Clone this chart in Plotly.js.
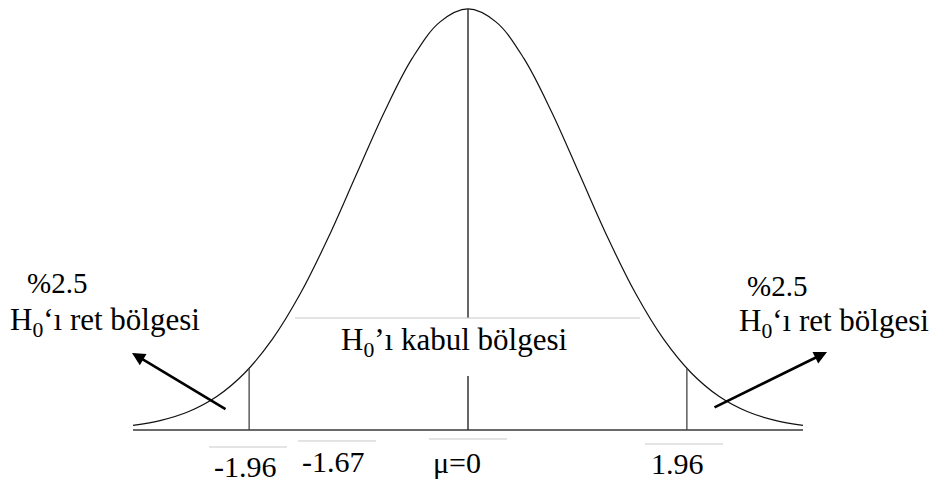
<!DOCTYPE html>
<html>
<head>
<meta charset="utf-8">
<script src="https://cdn.plot.ly/plotly-3.0.1.min.js"></script>
<style>
  html, body { margin: 0; padding: 0; background: #ffffff; }
  #chart { width: 934px; height: 481px; }
</style>
</head>
<body>
<div id="chart"></div>
<script>
// Standard normal density, tabulated
const zValues = [-3, -2.75, -2.5, -2.25, -2, -1.75, -1.5, -1.25, -1, -0.75, -0.5, -0.25,
                 0, 0.25, 0.5, 0.75, 1, 1.25, 1.5, 1.75, 2, 2.25, 2.5, 2.75, 3];
const density = [0.0044, 0.0091, 0.0175, 0.0317, 0.0540, 0.0863, 0.1295, 0.1826, 0.2420, 0.3011, 0.3521, 0.3867,
                 0.3989, 0.3867, 0.3521, 0.3011, 0.2420, 0.1826, 0.1295, 0.0863, 0.0540, 0.0317, 0.0175, 0.0091, 0.0044];

// Critical values and the density at each of them
const criticalZ = [-1.96, 1.96];
const criticalDensity = [0.0584, 0.0584];
const meanZ = 0;
const peakDensity = 0.3989;

// Labels under the axis
const tickLabels = ['-1.96', '-1.67', 'μ=0', '1.96'];

// Region captions
const tailShare = '%2.5';
const rejectText = 'H<sub>0</sub>\u2018ı ret bölgesi';
const acceptText = 'H<sub>0</sub>\u2019ı kabul bölgesi';

// Arrows pointing out of each tail: [tailX, tailY, headX, headY]
const leftArrow = [-2.158, 0.0190, -3.009, 0.0730];
const rightArrow = [2.194, 0.0208, 3.215, 0.0739];

const traces = [
  { // horizontal axis
    x: [zValues[0], zValues[zValues.length - 1]], y: [0, 0],
    mode: 'lines', line: { color: '#6a6a6a', width: 2 }
  },
  { // density curve
    x: zValues, y: density,
    mode: 'lines', line: { color: '#111111', width: 1.2, shape: 'spline', smoothing: 1 }
  },
  { // left critical line
    x: [criticalZ[0], criticalZ[0]], y: [0, criticalDensity[0]],
    mode: 'lines', line: { color: '#444444', width: 1.3 }
  },
  { // right critical line
    x: [criticalZ[1], criticalZ[1]], y: [0, criticalDensity[1]],
    mode: 'lines', line: { color: '#444444', width: 1.3 }
  },
  { // mean line
    x: [meanZ, meanZ], y: [0, peakDensity],
    mode: 'lines', line: { color: '#333333', width: 1.5 }
  }
];

const boxLine = { color: '#c8c8c8', width: 1 };
const shapes = [
  // white box behind the acceptance caption
  { type: 'rect', layer: 'above', xref: 'x', yref: 'y', x0: -1.549, x1: 1.540, y0: 0.0512, y1: 0.1061,
    fillcolor: '#ffffff', line: { width: 0 } },
  { type: 'line', layer: 'above', xref: 'x', yref: 'y', x0: -1.549, x1: 1.540, y0: 0.1061, y1: 0.1061, line: boxLine },
  // thin rules above the axis labels
  { type: 'line', layer: 'above', xref: 'x', yref: 'y', x0: -2.319, x1: -1.621, y0: -0.0161, y1: -0.0161, line: boxLine },
  { type: 'line', layer: 'above', xref: 'x', yref: 'y', x0: -1.522, x1: -0.824, y0: -0.0104, y1: -0.0104, line: boxLine },
  { type: 'line', layer: 'above', xref: 'x', yref: 'y', x0: -0.349, x1: 0.349, y0: -0.0085, y1: -0.0085, line: boxLine },
  { type: 'line', layer: 'above', xref: 'x', yref: 'y', x0: 1.585, x1: 2.284, y0: -0.0133, y1: -0.0133, line: boxLine }
];

function caption(text, x, y, size) {
  return { text: text, x: x, y: y, xref: 'x', yref: 'y', showarrow: false,
           xanchor: 'center', yanchor: 'middle',
           font: { family: 'Liberation Serif', size: size, color: '#000000' } };
}
function arrow(a) {
  return { text: '', x: a[2], y: a[3], ax: a[0], ay: a[1], xref: 'x', yref: 'y', axref: 'x', ayref: 'y',
           showarrow: true, arrowhead: 2, arrowsize: 1, arrowwidth: 2.6, arrowcolor: '#000000', standoff: 0 };
}

const annotations = [
  caption(tailShare, -3.680, 0.1390, 29),
  caption(rejectText, -3.255, 0.1023, 31),
  caption(tailShare, 2.763, 0.1362, 29),
  caption(rejectText, 3.278, 0.1014, 31),
  caption(acceptText, -0.121, 0.0834, 31),
  caption(tickLabels[0], -1.997, -0.0350, 30),
  caption(tickLabels[1], -1.204, -0.0300, 30),
  caption(tickLabels[2], -0.103, -0.0310, 30),
  caption(tickLabels[3], 1.872, -0.0315, 30),
  arrow(leftArrow),
  arrow(rightArrow)
];

const layout = {
  width: 934, height: 481,
  margin: { l: 0, r: 0, t: 0, b: 0, pad: 0 },
  paper_bgcolor: '#ffffff', plot_bgcolor: '#ffffff',
  showlegend: false,
  font: { family: 'Liberation Serif', size: 28, color: '#000000' },
  xaxis: { range: [-4.191, 4.173], visible: false, fixedrange: true },
  yaxis: { range: [-0.04832, 0.4074], visible: false, fixedrange: true },
  shapes: shapes,
  annotations: annotations
};

Plotly.newPlot('chart', traces, layout, { staticPlot: true, displayModeBar: false });
</script>
</body>
</html>
